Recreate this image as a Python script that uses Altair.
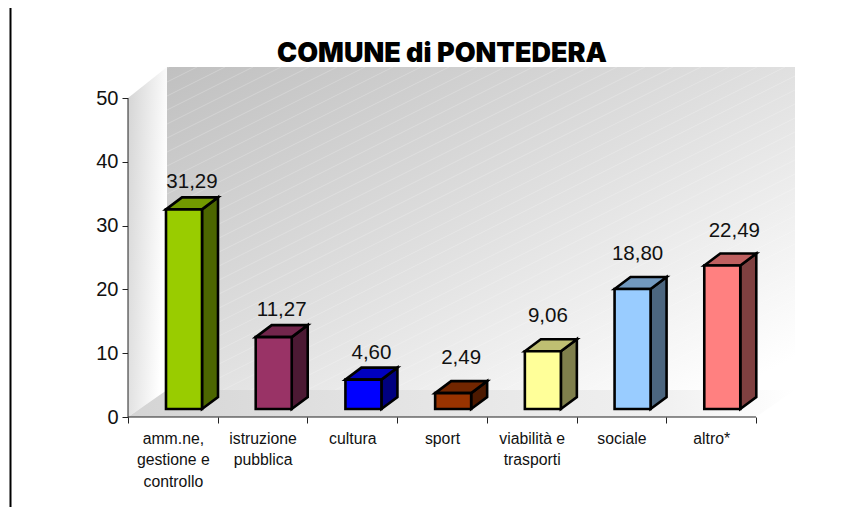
import json
import altair as alt
import pandas as pd

categories = ["amm.ne, gestione e controllo", "istruzione pubblica", "cultura", "sport",
              "viabilità e trasporti", "sociale", "altro*"]
label_lines = [["amm.ne,", "gestione e", "controllo"], ["istruzione", "pubblica"], ["cultura"], ["sport"],
               ["viabilità e", "trasporti"], ["sociale"], ["altro*"]]
values = [31.29, 11.27, 4.60, 2.49, 9.06, 18.80, 22.49]
front_colors = ["#99CC00", "#993366", "#0000FF", "#993300", "#FFFF99", "#99CCFF", "#FF8080"]
y_ticks = [0, 10, 20, 30, 40, 50]
title_text = "COMUNE di PONTEDERA"

# pixel metrics of the box
PX_X = 89.714   # px per category
PX_Y = 6.38     # px per value unit
W, H = 667, 350
DEPTH_X, DEPTH_Y = 39 / PX_X, 27 / PX_Y           # box depth
BAR_DX, BAR_DY = 16 / PX_X, 12 / PX_Y             # bar depth
BAR_LIFT = 8 / PX_Y
BAR_START, BAR_W = 38 / PX_X, 36 / PX_X
N = len(values)
YMAX = 50

x_scale = alt.Scale(domain=[0, W / PX_X], nice=False, zero=False)
y_scale = alt.Scale(domain=[0, H / PX_Y], nice=False, zero=False)

label_expr = "(" + json.dumps(label_lines + [""], ensure_ascii=False) + ")[datum.value]"
x_axis = alt.Axis(
    values=list(range(N + 1)), labelExpr=label_expr, labelOffset=PX_X / 2, labelAlign="center",
    labelBaseline="top", labelFont="Liberation Sans", labelFontSize=15.8, labelColor="#111111",
    labelLineHeight=21.5, labelPadding=8, labelOverlap=False, labelFlush=False, labelBound=False,
    tickColor="#222222", tickSize=6, domain=False, grid=False, title=None)
y_axis = alt.Axis(
    values=y_ticks, format="d", labelFont="Liberation Sans", labelFontSize=20, labelColor="#111111",
    labelPadding=4, labelBound=False, labelFlush=False,
    tickColor="#222222", tickSize=6, domain=False, grid=False, title=None)


def shade(c, f):
    r, g, b = (int(c[i:i + 2], 16) for i in (1, 3, 5))
    return "#%02x%02x%02x" % (int(r * f), int(g * f), int(b * f))


def X():
    return alt.X("x:Q", scale=x_scale, axis=x_axis, stack=None)


def Y():
    return alt.Y("y:Q", scale=y_scale, axis=y_axis, stack=None)


# back wall
xmax = W / PX_X
ymax = H / PX_Y
wall = alt.Chart(pd.DataFrame([dict(x=DEPTH_X, x2=xmax, y=DEPTH_Y, y2=ymax)])).mark_rect(
    color=alt.LinearGradient(gradient="linear", x1=0.0, y1=0.0, x2=1.0, y2=1.0,
                             stops=[alt.GradientStop(offset=0, color="#c0c0c0"),
                                    alt.GradientStop(offset=0.5, color="#e0e0e0"),
                                    alt.GradientStop(offset=0.95, color="#ffffff"),
                                    alt.GradientStop(offset=1, color="#ffffff")])
).encode(x=X(), x2="x2:Q", y=Y(), y2="y2:Q")

# faint diagonal texture on the wall
hatch_rows = []
step = 14 / PX_Y
slope = (0.5 / PX_Y) * PX_X  # value units per category unit
k = -40
while k < 60:
    y0 = DEPTH_Y + k * step
    xa, xb = DEPTH_X, xmax
    ya, yb = y0, y0 + slope * (xmax - DEPTH_X)
    if ya < DEPTH_Y:
        xa = DEPTH_X + (DEPTH_Y - y0) / slope
        ya = DEPTH_Y
    if yb > ymax:
        xb = DEPTH_X + (ymax - y0) / slope
        yb = ymax
    if xa < xb:
        hatch_rows.append(dict(x=xa, x2=xb, y=ya, y2=yb))
    k += 1
hatch = alt.Chart(pd.DataFrame(hatch_rows)).mark_rule(color="#ffffff", opacity=0.22, strokeWidth=1).encode(
    x=X(), x2="x2:Q", y=Y(), y2="y2:Q")

# left wall
left_wall = alt.Chart(pd.DataFrame([
    dict(x=0, y=YMAX, y2=0),
    dict(x=DEPTH_X, y=ymax, y2=DEPTH_Y),
])).mark_area(
    color=alt.LinearGradient(gradient="linear", x1=0.0, y1=0.0, x2=1.0, y2=0.35,
                             stops=[alt.GradientStop(offset=0, color="#d4d4d4"),
                                    alt.GradientStop(offset=1, color="#ffffff")])
).encode(x=X(), y=Y(), y2="y2:Q")

# floor
floor = alt.Chart(pd.DataFrame([
    dict(x=0, y=0, y2=0),
    dict(x=DEPTH_X, y=DEPTH_Y, y2=0),
    dict(x=N, y=DEPTH_Y, y2=0),
    dict(x=N + DEPTH_X, y=DEPTH_Y, y2=DEPTH_Y),
])).mark_area(
    color=alt.LinearGradient(gradient="linear", x1=0.0, y1=0.0, x2=1.0, y2=0.0,
                             stops=[alt.GradientStop(offset=0, color="#d4d4d4"),
                                    alt.GradientStop(offset=0.35, color="#e2e2e2"),
                                    alt.GradientStop(offset=0.8, color="#f0f0f0"),
                                    alt.GradientStop(offset=1, color="#ffffff")])
).encode(x=X(), y=Y(), y2="y2:Q")

# bars
STROKE = 2.6
bar_layers = []
front_rows = []
for i, v in enumerate(values):
    x0 = i + BAR_START
    x1 = x0 + BAR_W
    base = BAR_LIFT
    top = BAR_LIFT + v
    c = front_colors[i]
    front_rows.append(dict(x=x0, x2=x1, y=top, y2=base, c=c))
    side_rows = [dict(x=x1, y=top, y2=base),
                 dict(x=x1 + BAR_DX, y=top + BAR_DY, y2=base + BAR_DY)]
    top_rows = [dict(x=x0, y=top, y2=top),
                dict(x=x0 + BAR_DX, y=top + BAR_DY, y2=top),
                dict(x=x1, y=top + BAR_DY, y2=top),
                dict(x=x1 + BAR_DX, y=top + BAR_DY, y2=top + BAR_DY)]
    for rows, f in ((side_rows, 0.5), (top_rows, 0.75)):
        bar_layers.append(
            alt.Chart(pd.DataFrame(rows)).mark_area(
                fill=shade(c, f), stroke="#000000", strokeWidth=STROKE, strokeJoin="miter", opacity=1
            ).encode(x=X(), y=Y(), y2="y2:Q")
        )

front = alt.Chart(pd.DataFrame(front_rows)).mark_rect(stroke="#000000", strokeWidth=STROKE).encode(
    x=X(), x2="x2:Q", y=Y(), y2="y2:Q", fill=alt.Fill("c:N", scale=None))

# value labels
lab = pd.DataFrame({
    "x": [i + BAR_START + BAR_W / 2 for i in range(N)],
    "y": [v + BAR_LIFT for v in values],
    "t": [f"{v:.2f}".replace(".", ",") for v in values],
})
text_style = dict(font="Liberation Sans", fontSize=20.5, color="#111111", baseline="alphabetic", align="center")
label_layers = [
    alt.Chart(lab.iloc[:3]).mark_text(dy=-21, dx=8, **text_style).encode(x=X(), y=Y(), text="t:N"),
    alt.Chart(lab.iloc[3:4]).mark_text(dy=-29, dx=8, **text_style).encode(x=X(), y=Y(), text="t:N"),
    alt.Chart(lab.iloc[4:6]).mark_text(dy=-29, dx=5, **text_style).encode(x=X(), y=Y(), text="t:N"),
    alt.Chart(lab.iloc[6:]).mark_text(dy=-29, dx=12, **text_style).encode(x=X(), y=Y(), text="t:N"),
]

# axis lines
y_line = alt.Chart(pd.DataFrame([dict(x=0, y=0, y2=YMAX)])).mark_rule(color="#222222", strokeWidth=1).encode(
    x=X(), y=Y(), y2="y2:Q")
x_line = alt.Chart(pd.DataFrame([dict(x=0, x2=N, y=0)])).mark_rule(color="#222222", strokeWidth=1).encode(
    x=X(), x2="x2:Q", y=Y())

# page frame: a top and a left line running to the picture's edges
LEFT = -117.5 / PX_X
RIGHT = (860 - 128) / PX_X
TOP = (417 - 5.5) / PX_Y
BOTTOM = (417 - 507) / PX_Y
frame_top = alt.Chart(pd.DataFrame([dict(x=LEFT, x2=RIGHT, y=TOP)])).mark_rule(color="#111111", strokeWidth=2).encode(
    x=X(), x2="x2:Q", y=Y())
frame_left = alt.Chart(pd.DataFrame([dict(x=LEFT, y=TOP, y2=BOTTOM)])).mark_rule(color="#000000", strokeWidth=2).encode(
    x=X(), y=Y(), y2="y2:Q")

chart = alt.layer(
    wall, hatch, left_wall, floor, y_line, x_line, *bar_layers, front, *label_layers,
    frame_top, frame_left,
).properties(
    width=W, height=H, autosize="none",
    padding={"left": 120, "top": 59, "right": 65, "bottom": 90},
    background="#ffffff",
    title=alt.TitleParams(title_text, font="Inter", fontSize=27, fontWeight=900, color="#000000",
                          anchor="middle", frame="group", dx=-19.5, dy=66, offset=3),
).configure_view(stroke=None)

chart.save("out.html", embed_options={"renderer": "svg", "actions": False})
